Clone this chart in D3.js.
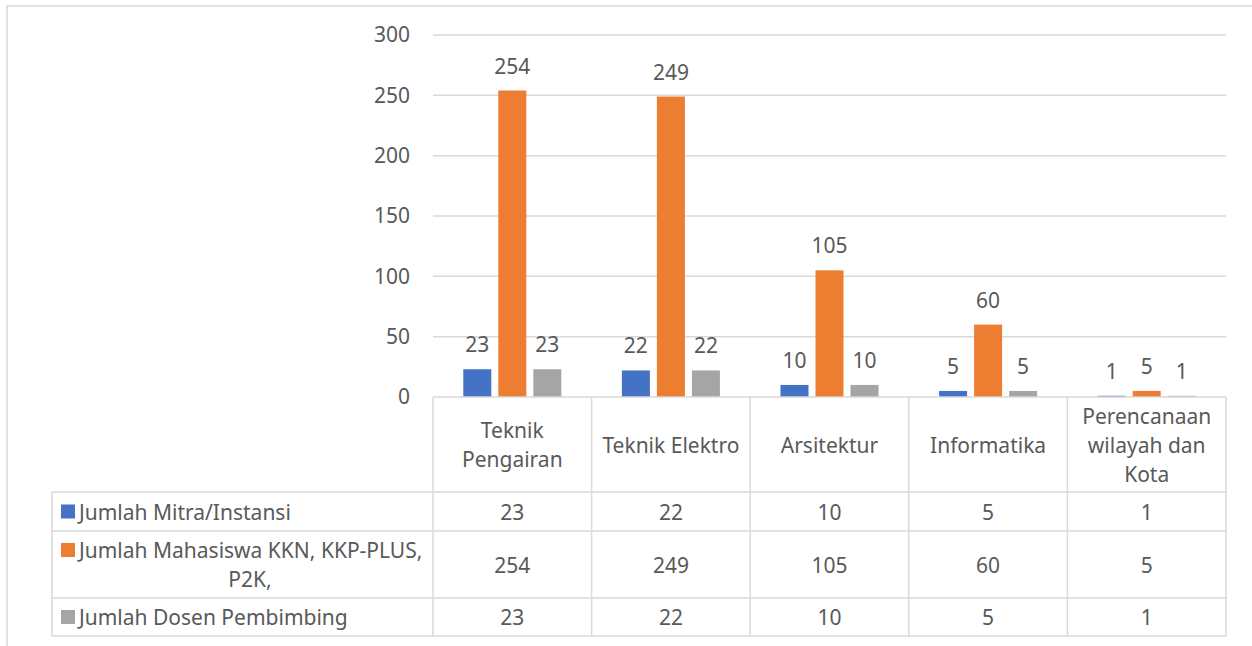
<!DOCTYPE html>
<html><head><meta charset="utf-8">
<script src="https://cdn.jsdelivr.net/npm/d3@7"></script>
<style>body{margin:0;background:#fff}svg{display:block}text{font-family:"Noto Sans",sans-serif;fill:#595959}</style>
</head><body><svg id="c" width="1252" height="646"></svg>
<script>
const categories = [["Teknik","Pengairan"],["Teknik Elektro"],["Arsitektur"],["Informatika"],["Perencanaan","wilayah dan","Kota"]];
const seriesNames = [["Jumlah Mitra/Instansi"],["Jumlah Mahasiswa KKN, KKP-PLUS,","P2K,"],["Jumlah Dosen Pembimbing"]];
const seriesColors = ["#4472c4","#ed7d31","#a5a5a5"];
const mitra = [23,22,10,5,1];
const mahasiswa = [254,249,105,60,5];
const dosen = [23,22,10,5,1];
const yTicks = [0,50,100,150,200,250,300];
const values = [mitra, mahasiswa, dosen];

(function(){
const svg = d3.select("#c");
const fs = 21, grid = "#d9d9d9";
const pLeft = 433, pRight = 1226, pTop = 35, base = 397;
const rowY = [492, 531, 598, 636];
const tableLeft = 52;

svg.append("rect").attr("x",7).attr("y",6).attr("width",1300).attr("height",700)
  .attr("fill","none").attr("stroke",grid).attr("stroke-width",1.5);

const catIdx = categories.map((d,i)=>i);
const x0 = d3.scaleBand().domain(catIdx).range([pLeft,pRight]).padding(0);
const x1 = d3.scaleBand().domain([0,1,2]).range([0,x0.bandwidth()]).paddingInner(0.2).paddingOuter(0.865);
const y = d3.scaleLinear().domain([0,300]).range([base,pTop]);

svg.append("g").selectAll("line").data(yTicks.filter(t=>t>0)).join("line")
  .attr("x1",pLeft).attr("x2",pRight).attr("y1",d=>y(d)).attr("y2",d=>y(d))
  .attr("stroke",grid).attr("stroke-width",1.5);

const yAxis = d3.axisLeft(y).tickValues(yTicks).tickSize(0).tickPadding(23);
const ga = svg.append("g").attr("transform",`translate(${pLeft},0)`).call(yAxis);
ga.select(".domain").remove();
ga.selectAll("text").attr("font-size",fs).attr("font-family",null).attr("fill","#595959").style("font-family",'"Noto Sans",sans-serif');

const g = svg.append("g");
values.forEach((vals,s)=>{
  g.selectAll(null).data(vals).join("rect")
    .attr("x",(d,i)=>x0(i)+x1(s)).attr("width",x1.bandwidth())
    .attr("y",d=>y(d)).attr("height",d=>base-y(d)).attr("fill",seriesColors[s]);
  g.selectAll(null).data(vals).join("text")
    .attr("x",(d,i)=>x0(i)+x1(s)+x1.bandwidth()/2).attr("y",d=>y(d)-25)
    .attr("text-anchor","middle").attr("dominant-baseline","central").attr("font-size",fs)
    .text(d=>d);
});

const tl = svg.append("g").attr("stroke",grid).attr("stroke-width",1.5);
tl.append("line").attr("x1",pLeft).attr("x2",pRight).attr("y1",base).attr("y2",base);
rowY.forEach(yy=>tl.append("line").attr("x1",tableLeft).attr("x2",pRight).attr("y1",yy).attr("y2",yy));
catIdx.concat([5]).forEach(i=>{
  const xx = i<5 ? x0(i) : pRight;
  tl.append("line").attr("x1",xx).attr("x2",xx).attr("y1",base).attr("y2",rowY[3]);
});
tl.append("line").attr("x1",tableLeft).attr("x2",tableLeft).attr("y1",rowY[0]).attr("y2",rowY[3]);

const lh = 29;
categories.forEach((lines,i)=>{
  const cy = (base+rowY[0])/2;
  const t = svg.append("text").attr("text-anchor","middle").attr("font-size",fs);
  lines.forEach((ln,k)=>{
    t.append("tspan").attr("x",x0(i)+x0.bandwidth()/2)
      .attr("y",cy+(k-(lines.length-1)/2)*lh).attr("dominant-baseline","central").text(ln);
  });
});

values.forEach((vals,s)=>{
  const cy = (rowY[s]+rowY[s+1])/2;
  vals.forEach((v,i)=>{
    svg.append("text").attr("x",x0(i)+x0.bandwidth()/2).attr("y",cy)
      .attr("text-anchor","middle").attr("dominant-baseline","central").attr("font-size",fs).text(v);
  });
  const lines = seriesNames[s];
  const ly0 = cy - (lines.length-1)/2*lh;
  svg.append("rect").attr("x",61).attr("y",ly0-7).attr("width",14).attr("height",14).attr("fill",seriesColors[s]);
  lines.forEach((ln,k)=>{
    const t = svg.append("text").attr("y",ly0+k*lh).attr("dominant-baseline","central").attr("font-size",fs).text(ln);
    if(k===0) t.attr("x",79); else t.attr("x",250).attr("text-anchor","middle");
  });
});
})();
</script></body></html>
